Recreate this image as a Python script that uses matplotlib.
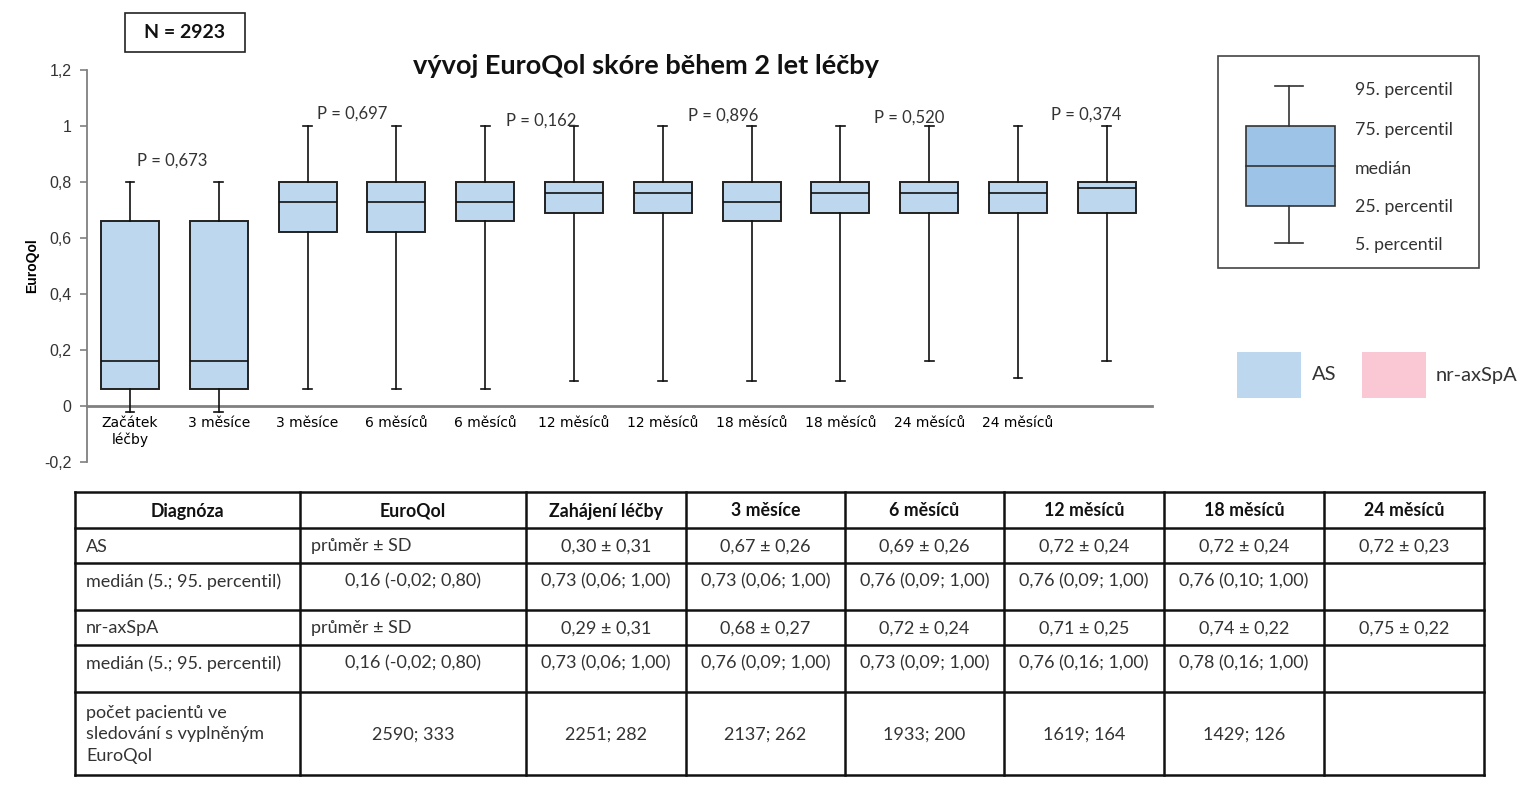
import matplotlib
matplotlib.use("Agg")
import matplotlib.pyplot as plt
from matplotlib.patches import Rectangle
import numpy as np

W, H = 1532, 800

# box plot data (5., 25., 50., 75., 95. percentil)
box_labels = ["Začátek\nléčby", "3 měsíce", "3 měsíce", "6 měsíců", "6 měsíců",
              "12 měsíců", "12 měsíců", "18 měsíců", "18 měsíců", "24 měsíců",
              "24 měsíců", ""]
p5 = [-0.02, -0.02, 0.06, 0.06, 0.06, 0.09, 0.09, 0.09, 0.09, 0.16, 0.10, 0.16]
p25 = [0.06, 0.06, 0.62, 0.62, 0.66, 0.69, 0.69, 0.66, 0.69, 0.69, 0.69, 0.69]
p50 = [0.16, 0.16, 0.73, 0.73, 0.73, 0.76, 0.76, 0.73, 0.76, 0.76, 0.76, 0.78]
p75 = [0.66, 0.66, 0.80, 0.80, 0.80, 0.80, 0.80, 0.80, 0.80, 0.80, 0.80, 0.80]
p95 = [0.80, 0.80, 1.00, 1.00, 1.00, 1.00, 1.00, 1.00, 1.00, 1.00, 1.00, 1.00]

p_values = ["P = 0,673", "P = 0,697", "P = 0,162", "P = 0,896", "P = 0,520", "P = 0,374"]
p_x = [0.48, 2.5, 4.63, 6.68, 8.78, 10.77]
p_y = [0.875, 1.043, 1.02, 1.036, 1.029, 1.039]

yticks = [-0.2, 0, 0.2, 0.4, 0.6, 0.8, 1.0, 1.2]
ytick_labels = ["-0,2", "0", "0,2", "0,4", "0,6", "0,8", "1", "1,2"]

legend_items = ["95. percentil", "75. percentil", "medián", "25. percentil", "5. percentil"]

# table
table_header = ["Diagnóza", "EuroQol", "Zahájení léčby", "3 měsíce", "6 měsíců",
                "12 měsíců", "18 měsíců", "24 měsíců"]
row_as_mean = ["AS", "průměr ± SD", "0,30 ± 0,31", "0,67 ± 0,26", "0,69 ± 0,26",
               "0,72 ± 0,24", "0,72 ± 0,24", "0,72 ± 0,23"]
row_as_med = ["medián (5.; 95. percentil)", "0,16 (-0,02; 0,80)", "0,73 (0,06; 1,00)",
              "0,73 (0,06; 1,00)", "0,76 (0,09; 1,00)", "0,76 (0,09; 1,00)",
              "0,76 (0,10; 1,00)", ""]
row_nr_mean = ["nr-axSpA", "průměr ± SD", "0,29 ± 0,31", "0,68 ± 0,27", "0,72 ± 0,24",
               "0,71 ± 0,25", "0,74 ± 0,22", "0,75 ± 0,22"]
row_nr_med = ["medián (5.; 95. percentil)", "0,16 (-0,02; 0,80)", "0,73 (0,06; 1,00)",
              "0,76 (0,09; 1,00)", "0,73 (0,09; 1,00)", "0,76 (0,16; 1,00)",
              "0,78 (0,16; 1,00)", ""]
row_count = ["počet pacientů ve\nsledování s vyplněným\nEuroQol", "2590; 333", "2251; 282",
             "2137; 262", "1933; 200", "1619; 164", "1429; 126", ""]

BLUE = "#BDD7EE"
PINK = "#FAC8D5"
GREY = "#808080"
TXT = "#333333"
FONT = ["Lato", "DejaVu Sans"]
ARIAL = ["Liberation Sans", "DejaVu Sans"]

fig = plt.figure(figsize=(W / 100, H / 100), dpi=100)
fig.patch.set_facecolor("white")

# overlay in pixel coords for boxes, legend and table
ov = fig.add_axes([0, 0, 1, 1])
ov.set_xlim(0, W)
ov.set_ylim(H, 0)
ov.axis("off")

# ---- main box plot ----
ax = fig.add_axes([87 / W, 1 - 462 / H, (1152 - 87) / W, (462 - 70) / H])
pos = np.arange(len(p50))
stats = [dict(whislo=a, q1=b, med=c, q3=d, whishi=e, fliers=[])
         for a, b, c, d, e in zip(p5, p25, p50, p75, p95)]
ax.bxp(stats, positions=pos, widths=0.653, capwidths=0.1, patch_artist=True,
       showfliers=False,
       boxprops=dict(facecolor=BLUE, edgecolor="#222222", linewidth=1.4),
       medianprops=dict(color="#111111", linewidth=1.2),
       whiskerprops=dict(color="#111111", linewidth=1.2),
       capprops=dict(color="#111111", linewidth=1.2))
ax.set_xlim(-0.484, 11.509)
ax.set_ylim(-0.2, 1.2)
ax.set_yticks(yticks)
ax.set_yticklabels(ytick_labels, family=ARIAL, fontsize=11.5, color=TXT)
ax.set_xticks(pos)
ax.set_xticklabels(box_labels, family=ARIAL, fontsize=11, color=TXT, linespacing=1.0)
ax.tick_params(axis="x", length=0, pad=7)
ax.tick_params(axis="y", length=5, width=1.2, color=GREY, pad=6)
for s in ["top", "right"]:
    ax.spines[s].set_visible(False)
ax.spines["left"].set_color(GREY)
ax.spines["left"].set_linewidth(1.3)
ax.spines["bottom"].set_position(("data", 0))
ax.spines["bottom"].set_color(GREY)
ax.spines["bottom"].set_linewidth(2)
ax.spines["bottom"].set_zorder(0.5)
ax.patch.set_alpha(0)
ax.set_ylabel("EuroQol", family=ARIAL, fontsize=10, fontweight="bold", labelpad=4)

for t, x, y in zip(p_values, p_x, p_y):
    ax.text(x, y, t, ha="center", va="center", family=FONT, fontsize=12, color=TXT)

ax.text(5.81, 1.214, "vývoj EuroQol skóre během 2 let léčby",
        ha="center", va="center", family=FONT, fontsize=19.5, fontweight="bold",
        color="#111111", clip_on=False)

# ---- N box ----
ov.add_patch(Rectangle((125, 13), 120, 39, fill=False, edgecolor="#222222", linewidth=1.2))
ov.text(185, 33, "N = 2923", ha="center", va="center", family=FONT,
        fontsize=14, fontweight="bold", color="#111111")

# ---- legend box ----
ov.add_patch(Rectangle((1218, 56), 261, 212, fill=False, edgecolor="#444444", linewidth=1.2))
lx = 1289
ov.plot([lx, lx], [86, 126], color="#333333", lw=1.2)
ov.plot([lx, lx], [206, 243], color="#333333", lw=1.2)
ov.plot([lx - 14, lx + 14], [86, 86], color="#333333", lw=1.2)
ov.plot([lx - 14, lx + 14], [243, 243], color="#333333", lw=1.2)
ov.add_patch(Rectangle((1246, 126), 89, 80, facecolor="#9DC3E6", edgecolor="#333333", linewidth=1.2))
ov.plot([1246, 1335], [166, 166], color="#333333", lw=1.2)
for lab, y in zip(legend_items, [90, 130, 169, 207, 245]):
    ov.text(1355, y, lab, ha="left", va="center", family=FONT, fontsize=12.8, color=TXT)

ov.add_patch(Rectangle((1237, 352), 64, 46, facecolor=BLUE, edgecolor="none"))
ov.text(1312, 375, "AS", ha="left", va="center", family=FONT, fontsize=14.5, color=TXT)
ov.add_patch(Rectangle((1362, 352), 64, 46, facecolor=PINK, edgecolor="none"))
ov.text(1436, 375, "nr-axSpA", ha="left", va="center", family=FONT, fontsize=14.5, color=TXT)

# ---- table ----
cols_x = [75, 300, 526, 686, 845, 1004, 1164, 1324, 1484]
rows_y = [492, 528, 563, 610, 645, 692, 775]
for x in cols_x:
    ov.plot([x, x], [rows_y[0], rows_y[-1]], color="#111111", lw=1.8, solid_capstyle="projecting")
for y in rows_y:
    ov.plot([cols_x[0], cols_x[-1]], [y, y], color="#111111", lw=1.8, solid_capstyle="projecting")

for j, t in enumerate(table_header):
    ov.text((cols_x[j] + cols_x[j + 1]) / 2, (rows_y[0] + rows_y[1]) / 2 + 1, t,
            ha="center", va="center", family=FONT, fontsize=12.8, fontweight="bold", color="#111111")

body = [row_as_mean, row_as_med, row_nr_mean, row_nr_med, row_count]
y_shift = [1, -5, 1, -5, 1]
for i, row in enumerate(body):
    yc = (rows_y[i + 1] + rows_y[i + 2]) / 2 + y_shift[i]
    for j, t in enumerate(row):
        if not t:
            continue
        if j == 0 or (j == 1 and "SD" in t):
            ov.text(cols_x[j] + 11, yc, t, ha="left", va="center", family=FONT,
                    fontsize=13, color=TXT, linespacing=1.45)
        else:
            ov.text((cols_x[j] + cols_x[j + 1]) / 2, yc, t, ha="center", va="center",
                    family=FONT, fontsize=13, color=TXT)

fig.savefig("out.png", dpi=100)
